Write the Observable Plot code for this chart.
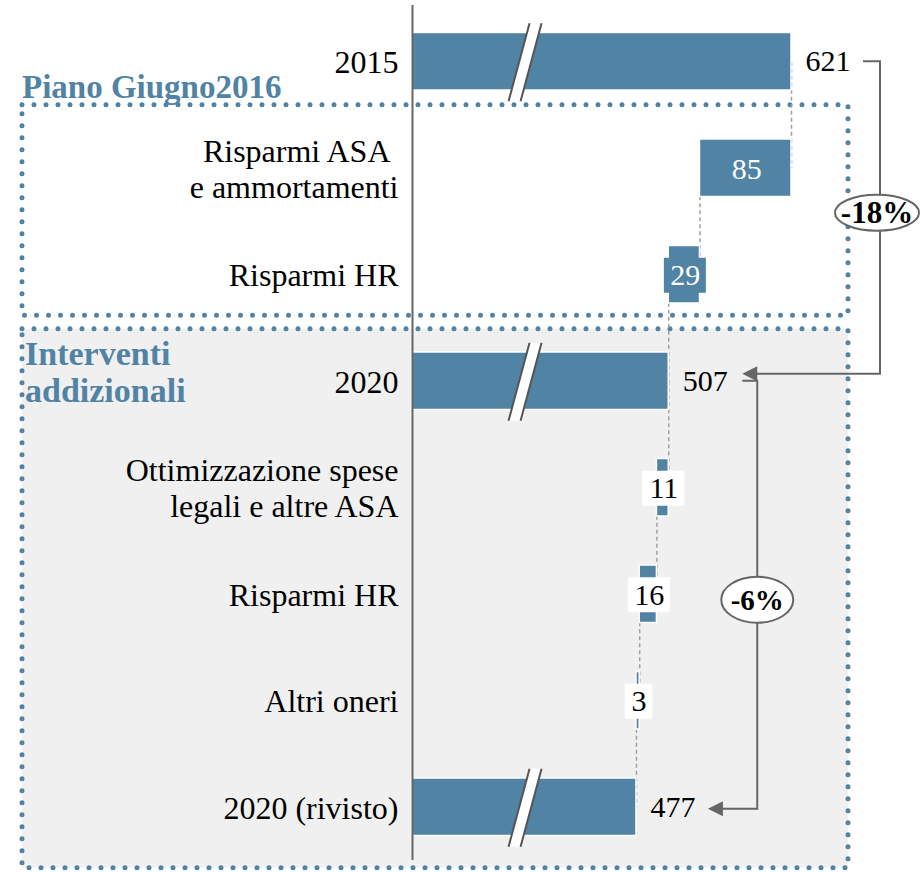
<!DOCTYPE html>
<html>
<head>
<meta charset="utf-8">
<script src="https://cdn.jsdelivr.net/npm/d3@7"></script>
<script src="https://cdn.jsdelivr.net/npm/@observablehq/plot@0.6"></script>
<style>
html, body { margin: 0; padding: 0; background: #ffffff; }
#chart svg { display: block; }
</style>
</head>
<body>
<div id="chart"></div>
<script>
// ---- data ----
const categories = [
  "2015",
  "Risparmi ASA\u00a0\ne ammortamenti",
  "Risparmi HR",
  "2020",
  "Ottimizzazione spese\nlegali e altre ASA",
  "Risparmi HR",
  "Altri oneri",
  "2020 (rivisto)"
];
const values = [621, -85, -29, 507, -11, -16, -3, 477];
const rowTypes = ["total", "delta", "delta", "total", "delta", "delta", "delta", "total"];
const labelStyles = ["outside", "inside", "blueBox", "outside", "whiteBox", "whiteBox", "whiteBox", "outside"];
const sectionTitles = ["Piano Giugno2016", "Interventi\naddizionali"];
const changeLabels = ["-18%", "-6%"];
const axisStart = 269;   // value at the (broken) axis origin
const breakAt = 374;     // value where the break symbol sits on total bars

// ---- derived table ----
let running = 0;
const rows = categories.map((label, i) => {
  const key = "r" + i;
  let x1, x2, end;
  if (rowTypes[i] === "total") {
    x1 = axisStart; x2 = values[i]; running = values[i]; end = values[i];
  } else {
    x1 = running + values[i]; x2 = running; running = x1; end = x1;
  }
  return {key, label, value: Math.abs(values[i]), type: rowTypes[i], style: labelStyles[i], x1, x2, end, mid: (x1 + x2) / 2};
});
const keys = rows.map(d => d.key);
const gaps = rows.slice(0, -1).map((d, i) => ({x: d.end, y1: d.key, y2: rows[i + 1].key}));

const BLUE = "#5083a4";
const GRAY = "#666666";
const SERIF = "'Liberation Serif', 'Times New Roman', serif";

function geom(scales) {
  const x = scales.x, y = scales.y;
  const step = y(keys[1]) - y(keys[0]);
  const b = y.bandwidth;
  const bw = typeof b === "function" ? b() : (typeof b === "number" ? b : step * 0.54);
  return {x, cy: k => y(k) + bw / 2, bw, step};
}

function sectionBoxes(index, scales) {
  const {cy} = geom(scales);
  const g = d3.create("svg:g");
  const b1 = {x0: 22, x1: 848, y0: cy("r1") - 63, y1: cy("r2") + 41};
  const b2 = {x0: 22, x1: 848, y0: cy("r3") - 52, y1: cy("r7") + 61};
  g.append("rect").attr("x", b2.x0).attr("y", b2.y0)
    .attr("width", b2.x1 - b2.x0).attr("height", b2.y1 - b2.y0).attr("fill", "#f0f0f0");
  for (const b of [b1, b2]) {
    g.append("rect").attr("x", b.x0).attr("y", b.y0)
      .attr("width", b.x1 - b.x0).attr("height", b.y1 - b.y0)
      .attr("fill", "none").attr("stroke", BLUE).attr("stroke-width", 5)
      .attr("stroke-dasharray", "0 12").attr("stroke-linecap", "round");
  }
  return g.node();
}

function sectionLabels(index, scales) {
  const {cy} = geom(scales);
  const g = d3.create("svg:g")
    .attr("font-family", SERIF).attr("font-weight", "bold").attr("fill", BLUE)
    .attr("text-anchor", "start");
  g.append("text").attr("x", 22).attr("y", cy("r0") + 36.5).attr("font-size", 33)
    .attr("text-anchor", "start").text(sectionTitles[0]);
  const lines = sectionTitles[1].split("\n");
  lines.forEach((t, i) => {
    g.append("text").attr("x", 25).attr("y", cy("r3") - 16 + i * 37).attr("font-size", 34)
      .attr("text-anchor", "start").text(t);
  });
  return g.node();
}

function breaks(index, scales) {
  const {x, cy} = geom(scales);
  const g = d3.create("svg:g");
  for (const r of rows.filter(d => d.type === "total")) {
    const cx = x(breakAt), c = cy(r.key) + 1;
    const h = 39, s = 10.5, w = 6;
    g.append("polygon")
      .attr("points", `${cx - w + s},${c - h} ${cx + w + s},${c - h} ${cx + w - s},${c + h} ${cx - w - s},${c + h}`)
      .attr("fill", "#ffffff");
    for (const o of [-w, w]) {
      g.append("line").attr("x1", cx + o + s).attr("y1", c - h).attr("x2", cx + o - s).attr("y2", c + h)
        .attr("stroke", "#555555").attr("stroke-width", 2);
    }
  }
  return g.node();
}

function labelBoxes(index, scales) {
  const {x, cy} = geom(scales);
  const g = d3.create("svg:g");
  for (const r of rows.filter(d => d.style === "blueBox" || d.style === "whiteBox")) {
    const t = String(r.value);
    const w = 14.5 * t.length + 13, h = 35;
    g.append("rect").attr("x", x(r.mid) - w / 2 + 1).attr("y", cy(r.key) - h / 2 + 1)
      .attr("width", w).attr("height", h)
      .attr("fill", r.style === "blueBox" ? BLUE : "#ffffff");
  }
  return g.node();
}

function brackets(index, scales) {
  const {x, cy} = geom(scales);
  const g = d3.create("svg:g");
  const c0 = cy("r0"), c3 = cy("r3"), c7 = cy("r7");
  const v0 = x(rows[0].x2), v3 = x(rows[3].x2), v7 = x(rows[7].x2);
  const line = (d) => g.append("path").attr("d", d).attr("fill", "none")
    .attr("stroke", GRAY).attr("stroke-width", 2);
  const arrow = (tx, ty) => g.append("polygon")
    .attr("points", `${tx},${ty} ${tx + 15},${ty - 7.5} ${tx + 15},${ty + 7.5}`).attr("fill", GRAY);
  const badge = (cx, cyy, rx, ry, t, fs) => {
    g.append("ellipse").attr("cx", cx).attr("cy", cyy).attr("rx", rx).attr("ry", ry)
      .attr("fill", "#ffffff").attr("stroke", GRAY).attr("stroke-width", 2);
    g.append("text").attr("x", cx).attr("y", cyy + fs * 0.34).attr("text-anchor", "middle")
      .attr("font-family", SERIF).attr("font-weight", "bold").attr("font-size", fs)
      .attr("fill", "#000").text(t);
  };
  // bracket 1: 2015 -> 2020
  const vx1 = v0 + 89;
  line(`M${v0 + 72},${c0} H${vx1} V${c3 - 7} H${v3 + 86}`);
  arrow(v3 + 74, c3 - 7);
  badge(vx1 - 3, cy("r1") + 45, 42, 18, changeLabels[0], 31);
  // bracket 2: 2020 -> 2020 (rivisto)
  const vx2 = v3 + 89;
  line(`M${v3 + 74},${c3} H${vx2} V${c7 + 2} H${v7 + 86}`);
  arrow(v7 + 72, c7 + 2);
  badge(vx2, cy("r5") + 6, 36, 23, changeLabels[1], 29);
  return g.node();
}

const outside = rows.filter(d => d.style === "outside");
const whiteText = rows.filter(d => d.style === "inside" || d.style === "blueBox");
const blackText = rows.filter(d => d.style === "whiteBox");

const chart = Plot.plot({
  width: 921,
  height: 872,
  marginLeft: 0, marginRight: 0, marginTop: 0, marginBottom: 0,
  style: {fontFamily: SERIF, background: "#ffffff", color: "#000"},
  x: {domain: [axisStart, rows[0].x2], range: [412, 791], axis: null},
  y: {domain: keys, range: [8, 860], paddingInner: 0.46, paddingOuter: 0.23, round: false, axis: null},
  marks: [
    sectionBoxes,
    Plot.link(gaps, {x1: "x", x2: "x", y1: "y1", y2: "y2", stroke: "#a0a0a0", strokeWidth: 1.5, strokeDasharray: "4,3"}),
    Plot.barX(rows, {x1: "x1", x2: "x2", y: "key", fill: BLUE, stroke: "#ffffff", strokeWidth: 1.5}),
    Plot.ruleX([axisStart], {stroke: GRAY, strokeWidth: 2, insetTop: 5, insetBottom: 12}),
    breaks,
    labelBoxes,
    Plot.text(rows, {x: axisStart, y: "key", text: "label", textAnchor: "end", dx: -14,
      fontSize: 32, lineHeight: 1.13, fill: "#000"}),
    Plot.text(outside, {x: "x2", y: "key", text: d => String(d.value), textAnchor: "start", dx: 14,
      fontSize: 30, fill: "#000"}),
    Plot.text(whiteText, {x: "mid", y: "key", text: d => String(d.value), textAnchor: "middle", dx: 1, dy: 1,
      fontSize: 30, fill: "#ffffff"}),
    Plot.text(blackText, {x: "mid", y: "key", text: d => String(d.value), textAnchor: "middle", dx: 1, dy: 1,
      fontSize: 30, fill: "#000"}),
    sectionLabels,
    brackets
  ]
});
document.getElementById("chart").append(chart);
</script>
</body>
</html>
